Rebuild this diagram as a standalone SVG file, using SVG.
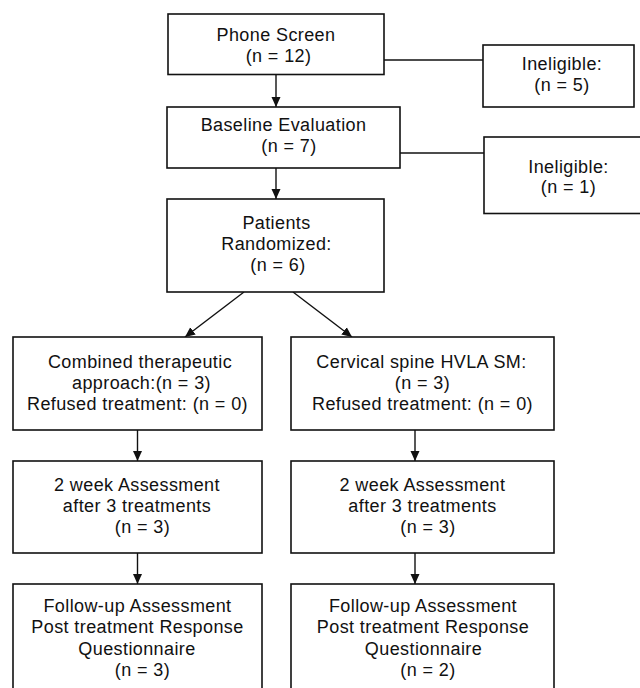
<svg xmlns="http://www.w3.org/2000/svg" width="640" height="688" viewBox="0 0 640 688">
<style>
.box{fill:#fff;stroke:#111;stroke-width:1.6}
.t{font-family:"Liberation Sans",Arial,Helvetica,sans-serif;font-size:18px;letter-spacing:0.4px;fill:#111;text-anchor:middle}
.c{stroke:#111;stroke-width:1.4;fill:none}
.a{marker-end:url(#ah)}
</style>
<defs>
<marker id="ah" markerUnits="userSpaceOnUse" markerWidth="11" markerHeight="11" refX="10" refY="5" orient="auto">
<path d="M0,0.5 L10,5 L0,9.5 z" fill="#111"/>
</marker>
</defs>
<rect width="640" height="688" fill="#fff"/>
<g id="connectors">
<line class="c" x1="384" y1="60" x2="483" y2="60"/>
<line class="c" x1="400" y1="153" x2="484" y2="153"/>
<line class="c a" x1="276" y1="74.5" x2="276" y2="107"/>
<line class="c a" x1="276" y1="168" x2="276" y2="199"/>
<line class="c a" x1="244" y1="292" x2="185" y2="337"/>
<line class="c a" x1="293" y1="292" x2="352" y2="337"/>
<line class="c a" x1="137.5" y1="430" x2="137.5" y2="461"/>
<line class="c a" x1="415" y1="430" x2="415" y2="461"/>
<line class="c a" x1="137.5" y1="553" x2="137.5" y2="584"/>
<line class="c a" x1="415" y1="553" x2="415" y2="584"/>
</g>
<g id="phone">
<rect class="box" x="168" y="14" width="216" height="60.5"/>
<text class="t" x="276" y="41">Phone Screen</text>
<text class="t" x="278.5" y="62">(n = 12)</text>
</g>
<g id="inel1">
<rect class="box" x="483" y="45" width="151" height="62"/>
<text class="t" x="562" y="69.5">Ineligible:</text>
<text class="t" x="562" y="90.5">(n = 5)</text>
</g>
<g id="baseline">
<rect class="box" x="167" y="107" width="233" height="61"/>
<text class="t" x="283.5" y="131">Baseline Evaluation</text>
<text class="t" x="289" y="152">(n = 7)</text>
</g>
<g id="inel2">
<rect class="box" x="484" y="137" width="170" height="76.5"/>
<text class="t" x="568.5" y="172.5">Ineligible:</text>
<text class="t" x="568.5" y="193">(n = 1)</text>
</g>
<g id="randomized">
<rect class="box" x="167" y="199" width="217" height="93"/>
<text class="t" x="276.5" y="229">Patients</text>
<text class="t" x="276.5" y="250">Randomized:</text>
<text class="t" x="278" y="271">(n = 6)</text>
</g>
<g id="combined">
<rect class="box" x="13" y="337" width="249" height="93"/>
<text class="t" x="140" y="368">Combined therapeutic</text>
<text class="t" x="141.5" y="389">approach:(n = 3)</text>
<text class="t" x="137.5" y="410">Refused treatment: (n = 0)</text>
</g>
<g id="cervical">
<rect class="box" x="291" y="337" width="263" height="93"/>
<text class="t" x="421.5" y="368">Cervical spine HVLA SM:</text>
<text class="t" x="422.5" y="389">(n = 3)</text>
<text class="t" x="422.5" y="410">Refused treatment: (n = 0)</text>
</g>
<g id="week2-left">
<rect class="box" x="13" y="461" width="249" height="92"/>
<text class="t" x="137" y="490.5">2 week Assessment</text>
<text class="t" x="137" y="511.5">after 3 treatments</text>
<text class="t" x="142.5" y="532.5">(n = 3)</text>
</g>
<g id="week2-right">
<rect class="box" x="291" y="461" width="263" height="92"/>
<text class="t" x="422.5" y="490.5">2 week Assessment</text>
<text class="t" x="422.5" y="511.5">after 3 treatments</text>
<text class="t" x="428" y="532.5">(n = 3)</text>
</g>
<g id="followup-left">
<rect class="box" x="13" y="584" width="249" height="115"/>
<text class="t" x="137.5" y="612">Follow-up Assessment</text>
<text class="t" x="137.5" y="633">Post treatment Response</text>
<text class="t" x="137" y="654.5">Questionnaire</text>
<text class="t" x="142.5" y="676">(n = 3)</text>
</g>
<g id="followup-right">
<rect class="box" x="291" y="584" width="263" height="115"/>
<text class="t" x="423" y="612">Follow-up Assessment</text>
<text class="t" x="423" y="633">Post treatment Response</text>
<text class="t" x="423.5" y="654.5">Questionnaire</text>
<text class="t" x="428" y="676">(n = 2)</text>
</g>
</svg>
